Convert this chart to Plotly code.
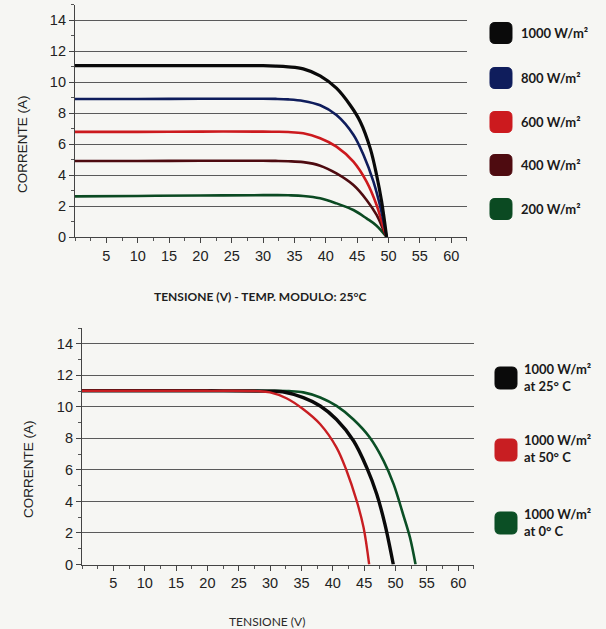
import plotly.graph_objects as go

# ---------------- data ----------------
# Top chart: irradiance curves at 25 °C
V_1000 = [0, 10, 20, 30, 32, 34, 36.4, 39.1, 41.7, 43.9, 45.5, 47.1, 48.1, 48.9, 49.7]
I_1000 = [11.05, 11.05, 11.05, 11.05, 11.03, 10.98, 10.85, 10.4, 9.6, 8.5, 7.44, 5.7, 4.0, 2.3, 0]

V_800 = [0, 10, 20, 30, 32, 34, 36.4, 39.1, 41.7, 44.4, 46.0, 47.6, 48.9, 49.7]
I_800 = [8.9, 8.9, 8.92, 8.92, 8.91, 8.88, 8.78, 8.5, 7.87, 6.6, 5.3, 3.57, 1.6, 0]

V_600 = [0, 10, 20, 30, 32, 34, 36.4, 39.1, 41.7, 44.4, 46.5, 48.1, 49.2, 49.7]
I_600 = [6.78, 6.78, 6.8, 6.8, 6.79, 6.77, 6.69, 6.37, 5.83, 4.86, 3.57, 2.06, 0.6, 0]

V_400 = [0, 10, 20, 30, 32, 34, 36.4, 39.1, 41.7, 44.4, 46.5, 48.1, 49.2, 49.7]
I_400 = [4.9, 4.9, 4.92, 4.92, 4.91, 4.89, 4.83, 4.6, 4.1, 3.35, 2.39, 1.42, 0.45, 0]

V_200 = [0, 10, 20, 30, 32, 34, 36.4, 39.1, 41.7, 44.4, 46.5, 48.1, 49.7]
I_200 = [2.62, 2.65, 2.68, 2.7, 2.7, 2.69, 2.65, 2.5, 2.17, 1.74, 1.2, 0.73, 0]

TOP_NAMES = ["1000 W/m²", "800 W/m²", "600 W/m²", "400 W/m²", "200 W/m²"]
TOP_COLORS = ["#0a0a0a", "#0f1d5c", "#cc1a1e", "#4e0b10", "#0b4a22"]

# Bottom chart: 1000 W/m² at different temperatures
V_25C = [0, 10, 20, 30, 32, 35.3, 38, 40.6, 43.3, 45.4, 47, 48.3, 49.65]
I_25C = [11.02, 11.02, 11.02, 11.0, 10.96, 10.59, 10.06, 9.2, 7.85, 6.16, 4.47, 2.58, 0]

V_50C = [0, 10, 20, 28, 30, 32.6, 35.3, 38, 40.6, 42.2, 43.8, 44.9, 45.8]
I_50C = [11.02, 11.02, 11.02, 11.0, 10.92, 10.55, 9.85, 8.9, 7.42, 5.95, 4.05, 2.36, 0]

V_0C = [0, 10, 20, 30, 33, 35.3, 38, 40.6, 43.3, 45.9, 48.1, 49.7, 51.2, 52.3, 53.2]
I_0C = [11.02, 11.02, 11.02, 11.02, 11.0, 10.92, 10.6, 10.06, 9.2, 8.06, 6.58, 5.1, 3.2, 1.73, 0]

BOT_NAMES = ["1000 W/m²<br>at 25° C", "1000 W/m²<br>at 50° C", "1000 W/m²<br>at 0° C"]
BOT_COLORS = ["#0a0a0a", "#c81e22", "#0b4f25"]

X_TICKS = [5, 10, 15, 20, 25, 30, 35, 40, 45, 50, 55, 60]
Y_TICKS = [0, 2, 4, 6, 8, 10, 12, 14]

# ---------------- figure ----------------
W, H = 606, 629
BG = "#f6f6f3"
fig = go.Figure()

top_series = [(V_1000, I_1000), (V_800, I_800), (V_600, I_600), (V_400, I_400), (V_200, I_200)]
top_widths = [3.2, 2.6, 2.6, 2.6, 2.6]
for (v, i), name, col, w in reversed(list(zip(top_series, TOP_NAMES, TOP_COLORS, top_widths))):
    fig.add_trace(go.Scatter(x=v, y=i, mode="lines", name=name, showlegend=False,
                             line=dict(color=col, width=w, shape="spline", smoothing=1.0),
                             xaxis="x", yaxis="y"))

bot_series = {"25": (V_25C, I_25C), "50": (V_50C, I_50C), "0": (V_0C, I_0C)}
order = [("0", 2, 2.6), ("25", 0, 3.4), ("50", 1, 2.4)]
for key, idx, w in order:
    v, i = bot_series[key]
    fig.add_trace(go.Scatter(x=v, y=i, mode="lines", name=BOT_NAMES[idx], showlegend=False,
                             line=dict(color=BOT_COLORS[idx], width=w, shape="spline", smoothing=1.0),
                             xaxis="x2", yaxis="y2"))

def px_x(p):
    return p / W

def px_y(p):
    return 1 - p / H

tickfont = dict(family="Liberation Sans, Arial, sans-serif", size=14.5, color="#222")
common_x = dict(range=[0, 62.5], tickvals=X_TICKS, ticks="outside", ticklen=5, tickcolor="#444",
                showline=True, linecolor="#444", linewidth=1.2, showgrid=False, zeroline=False,
                tickfont=tickfont, automargin=False,
                minor=dict(dtick=2.5, tick0=0, ticks="outside", ticklen=3, tickcolor="#555"),
                fixedrange=True)
common_y = dict(range=[0, 15], tickvals=Y_TICKS, ticks="outside", ticklen=5, tickcolor="#444",
                showline=True, linecolor="#444", linewidth=1.2, showgrid=True, gridcolor="#5a5a5a",
                gridwidth=1, zeroline=False, tickfont=tickfont, automargin=False,
                minor=dict(dtick=1, tick0=0, ticks="outside", ticklen=3, tickcolor="#555", showgrid=False),
                fixedrange=True)

fig.update_layout(
    width=W, height=H, autosize=False,
    margin=dict(l=0, r=0, t=0, b=0, pad=0, autoexpand=False),
    paper_bgcolor=BG, plot_bgcolor=BG,
    showlegend=False,
    xaxis=dict(domain=[px_x(75), px_x(75 + 62.5 * 6.27)], anchor="y", **common_x),
    yaxis=dict(domain=[px_y(237), px_y(237 - 15 * 15.5)], anchor="x", **common_y),
    xaxis2=dict(domain=[px_x(82), px_x(82 + 62.5 * 6.27)], anchor="y2", **common_x),
    yaxis2=dict(domain=[px_y(564.5), px_y(564.5 - 15 * 15.76)], anchor="x2", **common_y),
)

ytitle_font = dict(family="Liberation Sans, Arial, sans-serif", size=13.5, color="#222")
xtitle_font = dict(family="Lato, Open Sans, sans-serif", size=12, color="#1e1e1e", weight="bold")
xtitle2_font = dict(family="Lato, Open Sans, sans-serif", size=12, color="#2a2a2a")
annotations = [
    dict(text="CORRENTE (A)", x=px_x(22), y=px_y(144), textangle=-90, font=ytitle_font),
    dict(text="TENSIONE (V) - TEMP. MODULO: 25°C", x=px_x(260), y=px_y(296), font=xtitle_font),
    dict(text="CORRENTE (A)", x=px_x(28), y=px_y(469), textangle=-90, font=ytitle_font),
    dict(text="TENSIONE (V)", x=px_x(267), y=px_y(621), font=xtitle2_font),
]

legend_font = dict(family="Lato, Open Sans, sans-serif", size=13, color="#1a1a1a", weight="bold")

def rounded_square(x0, y0, x1, y1, r, color):
    # pixel coords (top-left origin) -> paper path
    def P(x, y):
        return f"{px_x(x):.5f},{px_y(y):.5f}"
    path = (f"M {P(x0 + r, y0)} L {P(x1 - r, y0)} Q {P(x1, y0)} {P(x1, y0 + r)} "
            f"L {P(x1, y1 - r)} Q {P(x1, y1)} {P(x1 - r, y1)} "
            f"L {P(x0 + r, y1)} Q {P(x0, y1)} {P(x0, y1 - r)} "
            f"L {P(x0, y0 + r)} Q {P(x0, y0)} {P(x0 + r, y0)} Z")
    return dict(type="path", xref="paper", yref="paper", path=path,
                fillcolor=color, line=dict(color=color, width=1))

shapes = []
top_centers = [33, 78, 122, 165, 209]
for cy, name, col in zip(top_centers, TOP_NAMES, TOP_COLORS):
    shapes.append(rounded_square(490, cy - 10.5, 512, cy + 10.5, 5, col))
    annotations.append(dict(text=name, x=px_x(519), y=px_y(cy), xanchor="left", font=legend_font))

bot_centers = [378, 450, 523]
for cy, name, col in zip(bot_centers, BOT_NAMES, BOT_COLORS):
    shapes.append(rounded_square(495, cy - 11, 517, cy + 11, 5, col))
    annotations.append(dict(text=name, x=px_x(522), y=px_y(cy - 1), xanchor="left", align="left",
                            font=legend_font))

for a in annotations:
    a.setdefault("xref", "paper")
    a.setdefault("yref", "paper")
    a.setdefault("showarrow", False)
    a.setdefault("xanchor", "center")
    a.setdefault("yanchor", "middle")

fig.update_layout(annotations=annotations, shapes=shapes)

fig.write_html("out.html", config={"displayModeBar": False},
               post_script="document.body.style.margin='0';document.body.style.overflow='hidden';")
